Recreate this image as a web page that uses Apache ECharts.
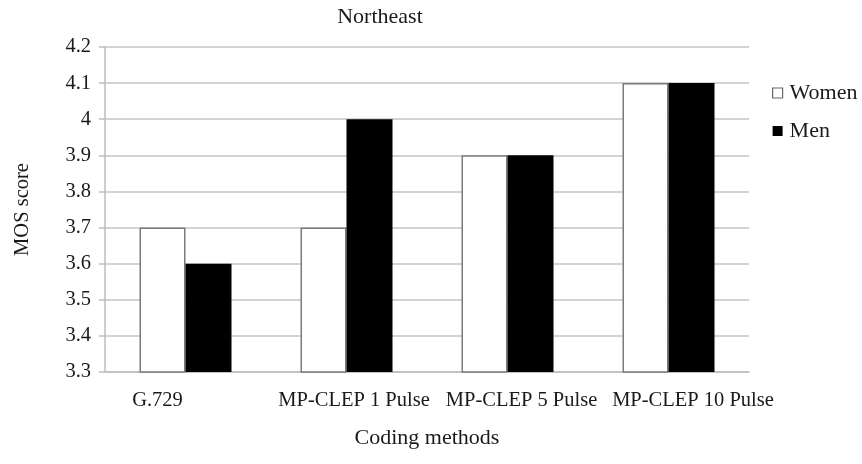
<!DOCTYPE html>
<html>
<head>
<meta charset="utf-8">
<script src="https://cdn.jsdelivr.net/npm/echarts@6/dist/echarts.min.js"></script>
<style>html,body{margin:0;padding:0;background:#fff}#c{width:862px;height:464px}</style>
</head>
<body>
<div id="c"></div>
<script>
var categories = ['G.729', 'MP-CLEP 1 Pulse', 'MP-CLEP 5 Pulse', 'MP-CLEP 10 Pulse'];
var women = [3.7, 3.7, 3.9, 4.1];
var men = [3.6, 4.0, 3.9, 4.1];
var yMin = 3.3, yMax = 4.2, yStep = 0.1;

var FONT = '"Liberation Serif", "Times New Roman", serif';
var TXT = '#1a1a1a';
var LBL = 20.5;
var chart = echarts.init(document.getElementById('c'));
chart.setOption({
  animation: false,
  backgroundColor: '#fff',
  textStyle: { fontFamily: FONT, color: TXT },
  title: {
    text: 'Northeast', left: 375, top: 1, textAlign: 'center',
    textStyle: { fontFamily: FONT, fontSize: 22, fontWeight: 'normal', color: TXT }
  },
  legend: {
    orient: 'vertical', left: 767, top: 77,
    itemWidth: 10, itemHeight: 10, itemGap: 16,
    icon: 'rect',
    textStyle: { fontFamily: FONT, fontSize: 22, color: TXT, padding: [0, 0, 0, 2] },
    data: [
      { name: 'Women', itemStyle: { color: '#fff', borderColor: '#666', borderWidth: 1.2 } },
      { name: 'Men', itemStyle: { color: '#000', borderColor: '#000', borderWidth: 0 } }
    ]
  },
  grid: { left: 105, right: 113, top: 47, bottom: 92, containLabel: false },
  xAxis: {
    type: 'category', data: categories,
    name: 'Coding methods', nameLocation: 'middle', nameGap: 55,
    nameTextStyle: { fontFamily: FONT, fontSize: 22, color: TXT },
    axisLine: { show: true, lineStyle: { color: '#bdbdbd', width: 1.5 } },
    axisTick: { show: false },
    axisLabel: {
      margin: 18, interval: 0,
      fontFamily: FONT, fontSize: LBL, color: TXT,
      formatter: function (v, i) { return '{c' + i + '|' + v + '}'; },
      rich: {
        c0: { fontFamily: FONT, fontSize: LBL, color: TXT, padding: [0, 56, 0, 0] },
        c1: { fontFamily: FONT, fontSize: LBL, color: TXT, padding: [0, 0, 0, 15] },
        c2: { fontFamily: FONT, fontSize: LBL, color: TXT, padding: [0, 0, 0, 28] },
        c3: { fontFamily: FONT, fontSize: LBL, color: TXT, padding: [0, 0, 0, 49] }
      }
    }
  },
  yAxis: {
    type: 'value', min: yMin, max: yMax, interval: yStep,
    name: 'MOS score', nameLocation: 'middle', nameGap: 72, nameRotate: 90,
    nameTextStyle: { fontFamily: FONT, fontSize: 20.5, color: TXT },
    axisLine: { show: true, lineStyle: { color: '#bdbdbd', width: 1.5 } },
    axisTick: { show: true, length: 6, lineStyle: { color: '#bdbdbd', width: 1.5 } },
    axisLabel: {
      margin: 14, fontFamily: FONT, fontSize: LBL, color: TXT,
      formatter: function (v) { return String(Math.round(v * 10) / 10); }
    },
    splitLine: { show: true, lineStyle: { color: '#c4c4c4', width: 1.5 } }
  },
  series: [
    {
      name: 'Women', type: 'bar', data: women, barWidth: 46, barGap: '0%',
      itemStyle: { color: '#fff', borderColor: '#7a7a7a', borderWidth: 1.5 }
    },
    {
      name: 'Men', type: 'bar', data: men, barWidth: 46, barGap: '0%',
      itemStyle: { color: '#000', borderColor: '#000', borderWidth: 0 }
    }
  ]
});
</script>
</body>
</html>
